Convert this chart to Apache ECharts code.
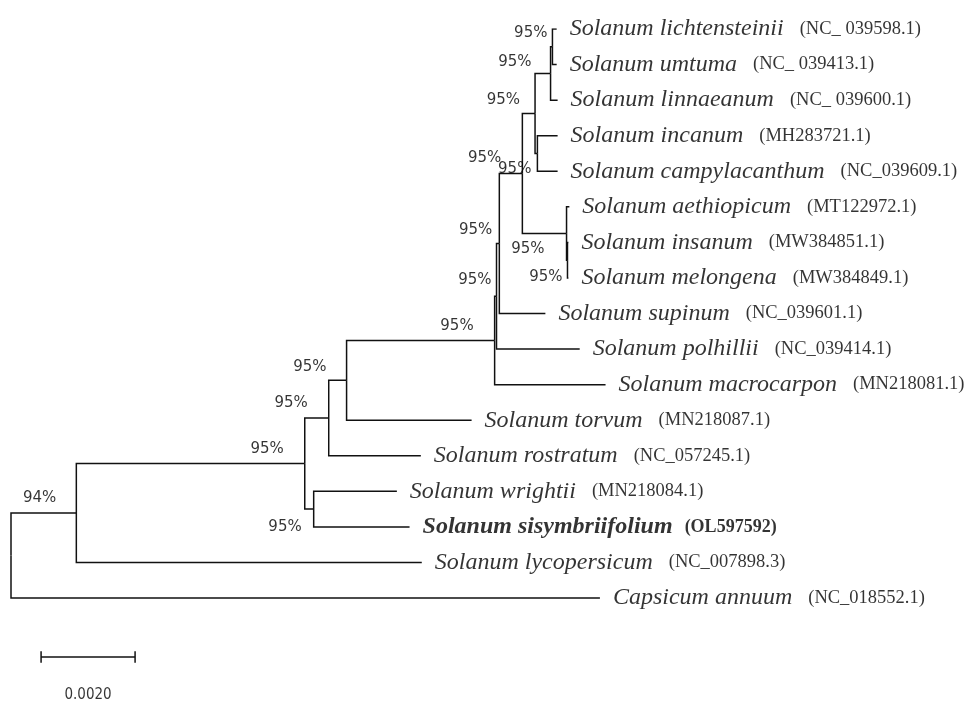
<!DOCTYPE html>
<html>
<head>
<meta charset="utf-8">
<script src="https://cdn.jsdelivr.net/npm/echarts@6/dist/echarts.min.js"></script>
<style>html,body{margin:0;padding:0;background:#fff}#c{width:967px;height:702px}</style>
</head>
<body>
<div id="c"></div>
<script>
// ---- tree data (children listed top-to-bottom) ----
const nodeIds = ['root','N1','Capsicum','N2','lycopersicum','N3','N5','N4','rostratum','G1','torvum','G2','macrocarpon','G3','polhillii','E','supinum','C','F','B','D','A','linnaeanum','lichtensteinii','umtuma','incanum','campylacanthum','aethiopicum','H','insanum','melongena','wrightii','sisymbriifolium'];
const parentIds = [null,'root','root','N1','N1','N2','N2','N3','N3','N4','N4','G1','G1','G2','G2','G3','G3','E','E','C','C','B','B','A','A','D','D','F','F','H','H','N5','N5'];
const branchLengths = [0,0.00139,0.01253,0.00486,0.00735,0.00051,0.00019,0.00038,0.00196,0.00315,0.00266,0.00004,0.00236,0.00006,0.00177,0.00049,0.00098,0.00027,0.00094,0.00033,0.00005,0.00004,0.00015,0.00009,0.00009,0.00043,0.00043,0.00006,0.00002,0.00002,0.00002,0.00177,0.00204];

// ---- leaf labels ----
const leafIds = ['lichtensteinii','umtuma','linnaeanum','incanum','campylacanthum','aethiopicum','insanum','melongena','supinum','polhillii','macrocarpon','torvum','rostratum','wrightii','sisymbriifolium','lycopersicum','Capsicum'];
const speciesNames = ['Solanum lichtensteinii','Solanum umtuma','Solanum linnaeanum','Solanum incanum','Solanum campylacanthum','Solanum aethiopicum','Solanum insanum','Solanum melongena','Solanum supinum','Solanum polhillii','Solanum macrocarpon','Solanum torvum','Solanum rostratum','Solanum wrightii','Solanum sisymbriifolium','Solanum lycopersicum','Capsicum annuum'];
const accessions = ['(NC_ 039598.1)','(NC_ 039413.1)','(NC_ 039600.1)','(MH283721.1)','(NC_039609.1)','(MT122972.1)','(MW384851.1)','(MW384849.1)','(NC_039601.1)','(NC_039414.1)','(MN218081.1)','(MN218087.1)','(NC_057245.1)','(MN218084.1)','(OL597592)','(NC_007898.3)','(NC_018552.1)'];
const highlightLeaf = 'sisymbriifolium';

// ---- bootstrap support ----
const supportNodes = ['A','B','C','E','D','G3','F','H','G2','G1','N4','N3','N2','N5','N1'];
const supportValues = ['95%','95%','95%','95%','95%','95%','95%','95%','95%','95%','95%','95%','95%','95%','94%'];

// ---- scale bar ----
const scaleBarValue = 0.002;
const scaleBarLabel = '0.0020';

// ---- layout / style (not data) ----
const supportOffsets = {A:[-5,-14],B:[-19,-11],C:[-15,-13],E:[-21,-15],D:[-6,16],G3:[-7,-13],F:[-22,16],H:[-5,17],G2:[-5,-16],G1:[-21,-14],N4:[-20,-13],N3:[-21,-15],N2:[-21,-14],N5:[-12,18],N1:[-20,-15]};
const scaleBarPos = {x:0.00064, y:17.66, tick:0.16, labelY:18.73};
const lineColor = '#111111';

// ---- compute tree layout ----
const idx = {}; nodeIds.forEach((n,i)=>idx[n]=i);
const children = {}; nodeIds.forEach(n=>children[n]=[]);
parentIds.forEach((p,i)=>{ if(p!==null) children[p].push(nodeIds[i]); });
const X = {}, Y = {};
let leafCounter = 0;
function walk(n, x){
  X[n] = x;
  const ch = children[n];
  if(ch.length===0){ Y[n] = leafCounter++; return; }
  ch.forEach(c=>walk(c, x + branchLengths[idx[c]]));
  Y[n] = (Y[ch[0]] + Y[ch[ch.length-1]]) / 2;
}
walk('root', 0);

const branchData = [];
nodeIds.forEach((n,i)=>{
  const p = parentIds[i]; if(p===null) return;
  branchData.push({coords:[[X[p],Y[p]],[X[p],Y[n]],[X[n],Y[n]]]});
});

const sb = scaleBarPos;
const scaleData = [
  {coords:[[sb.x,sb.y],[sb.x+scaleBarValue,sb.y]]},
  {coords:[[sb.x,sb.y-sb.tick],[sb.x,sb.y+sb.tick]]},
  {coords:[[sb.x+scaleBarValue,sb.y-sb.tick],[sb.x+scaleBarValue,sb.y+sb.tick]]}
];

const leafData = leafIds.map((l,i)=>({
  value:[X[l],Y[l]],
  label:{formatter: l===highlightLeaf ? '{sb|'+speciesNames[i]+'}{ab|'+accessions[i]+'}' : '{s|'+speciesNames[i]+'}{a|'+accessions[i]+'}'}
}));

const supportData = supportNodes.map((n,i)=>({
  value:[X[n],Y[n]],
  label:{formatter: supportValues[i], offset: supportOffsets[n]}
}));

const serif = '"Liberation Serif","Times New Roman",serif';
const chart = echarts.init(document.getElementById('c'), null, {renderer:'canvas'});
chart.setOption({
  animation:false,
  backgroundColor:'#ffffff',
  grid:{left:11, right:16, top:29, bottom:4.4},
  xAxis:{type:'value', min:0, max:0.02, show:false},
  yAxis:{type:'value', min:0, max:18.8, inverse:true, show:false},
  series:[
    {type:'lines', coordinateSystem:'cartesian2d', polyline:true, silent:true,
     lineStyle:{color:lineColor, width:1.5, opacity:1}, data:branchData},
    {type:'lines', coordinateSystem:'cartesian2d', polyline:true, silent:true,
     lineStyle:{color:lineColor, width:1.5, opacity:1}, data:scaleData},
    {type:'scatter', symbolSize:0, silent:true, clip:false, data:leafData,
     label:{show:true, position:'right', distance:13, color:'#000',
       rich:{
         s:{fontFamily:serif, fontStyle:'italic', fontSize:24, color:'#000'},
         a:{fontFamily:serif, fontSize:18.5, color:'#000', padding:[0,0,0,16]},
         sb:{fontFamily:serif, fontStyle:'italic', fontWeight:'bold', fontSize:24, color:'#000'},
         ab:{fontFamily:serif, fontWeight:'bold', fontSize:18, color:'#000', padding:[0,0,0,12]}
       }}},
    {type:'scatter', symbolSize:0, silent:true, clip:false, data:supportData,
     label:{show:true, position:'inside', align:'right', verticalAlign:'middle',
       fontFamily:'"DejaVu Sans",Verdana,sans-serif', fontSize:15, color:'#000'}},
    {type:'scatter', symbolSize:0, silent:true, clip:false,
     data:[{value:[sb.x+scaleBarValue/2, sb.labelY]}],
     label:{show:true, position:'inside', formatter:scaleBarLabel,
       fontFamily:'"DejaVu Sans Condensed","DejaVu Sans",sans-serif', fontSize:15, color:'#000'}}
  ]
});
</script>
</body>
</html>
